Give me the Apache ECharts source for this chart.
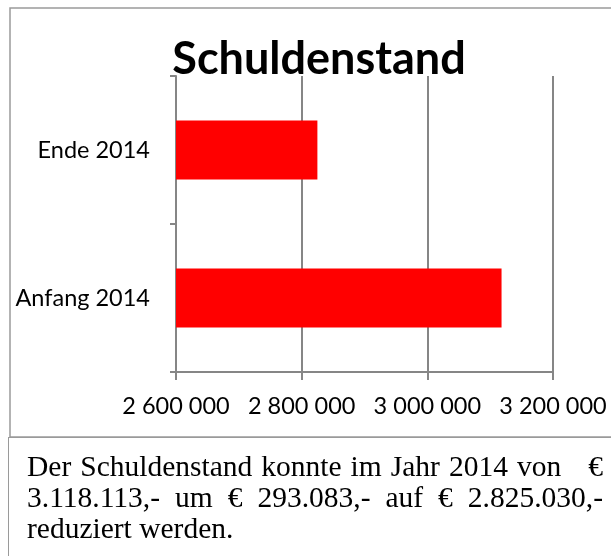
<!DOCTYPE html>
<html>
<head>
<meta charset="utf-8">
<script src="https://cdn.jsdelivr.net/npm/echarts@6/dist/echarts.min.js"></script>
<style>
html,body{margin:0;padding:0;background:#fff;}
#chart{position:absolute;left:0;top:0;width:611px;height:556px;}
#note{position:absolute;left:8px;top:437px;width:620px;height:130px;border-left:1.5px solid #9a9a9a;border-top:1.5px solid #9a9a9a;box-sizing:border-box;}
#note .inner{position:absolute;left:18px;top:13px;width:576px;font-family:"Liberation Serif","Times New Roman",serif;font-size:29.5px;line-height:31px;color:#000;}
#note .j{text-align:justify;text-align-last:justify;white-space:nowrap;}
</style>
</head>
<body>
<div id="chart"></div>
<div id="note"><div class="inner">
<div class="j">Der Schuldenstand konnte im Jahr 2014 von &nbsp; €</div>
<div class="j">3.118.113,- &nbsp;um &nbsp;€ &nbsp;293.083,- &nbsp;auf &nbsp;€ &nbsp;2.825.030,-</div>
<div>reduziert werden.</div>
</div></div>
<script>
var titleText = 'Schuldenstand';
var categories = ['Anfang 2014', 'Ende 2014'];
var values = [3118113, 2825030];
var axisMin = 2600000, axisMax = 3200000, axisStep = 200000;

var chart = echarts.init(document.getElementById('chart'), null, {renderer: 'canvas'});
var fmt = function (v) {
  return String(Math.round(v)).replace(/\B(?=(\d{3})+(?!\d))/g, ' ');
};
chart.setOption({
  animation: false,
  backgroundColor: '#fff',
  title: {
    text: titleText,
    left: 314, top: 32, textAlign: 'center',
    textStyle: {fontFamily: 'Lato', fontWeight: 'bold', fontSize: 45, color: '#000'}
  },
  graphic: [{
    type: 'rect', shape: {x: 10, y: 8, width: 620, height: 429},
    style: {fill: 'none', stroke: '#9a9a9a', lineWidth: 1.5}, silent: true, z: -1
  }],
  grid: {left: 176, right: 58, top: 76, bottom: 184, containLabel: false},
  xAxis: {
    type: 'value', min: axisMin, max: axisMax, interval: axisStep,
    axisLine: {show: true, lineStyle: {color: '#868686', width: 2}},
    axisTick: {show: true, length: 8, lineStyle: {color: '#868686', width: 2}},
    splitLine: {show: true, lineStyle: {color: '#868686', width: 2}},
    axisLabel: {formatter: fmt, margin: 22, fontFamily: 'Lato', fontSize: 23.5, color: '#000'}
  },
  yAxis: {
    type: 'category', data: categories,
    axisLine: {show: true, lineStyle: {color: '#868686', width: 2}},
    axisTick: {show: true, length: 6, lineStyle: {color: '#868686', width: 2}},
    axisLabel: {margin: 26, fontFamily: 'Lato', fontSize: 23.5, color: '#000'}
  },
  series: [{
    type: 'bar', data: values, barWidth: '40%',
    itemStyle: {color: '#ff0000'}
  }]
});
</script>
</body>
</html>
